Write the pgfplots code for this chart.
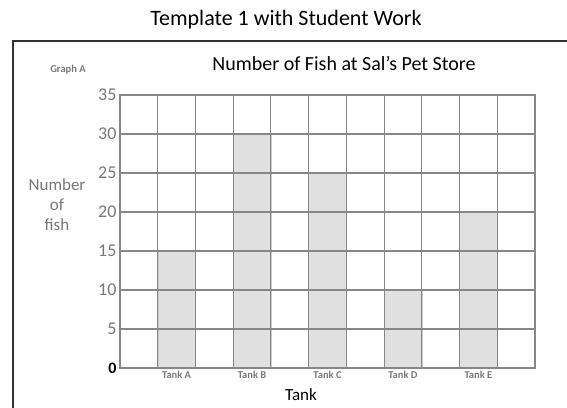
\documentclass[border=0pt]{standalone}
\usepackage{pgfplots}
\pgfplotsset{compat=1.18}
\usepackage{fontspec}
\setmainfont{Carlito}
\definecolor{gridgray}{RGB}{135,135,135}
\definecolor{bargray}{RGB}{224,224,224}
\definecolor{labgray}{RGB}{120,120,120}
\begin{document}
\begin{tikzpicture}
\useasboundingbox (0pt,0pt) rectangle (567pt,407pt);
\draw[line width=1.4pt, black!80] (13pt,-20pt) -- (13pt,366pt) -- (580pt,366pt);
\node[font=\fontsize{22}{24}\selectfont] at (286pt,387pt) {Template 1 with Student Work};
\node[font=\fontsize{10.5}{12}\selectfont\bfseries, text=labgray] at (68pt,337pt) {Graph A};
\node[font=\fontsize{20}{22}\selectfont] at (344pt,343pt) {Number of Fish at Sal's Pet Store};
\node[font=\fontsize{17}{20}\selectfont, text=labgray, align=center] at (57pt,202pt) {Number\\of\\fish};
\begin{axis}[
  at={(120pt,39pt)}, anchor=south west,
  scale only axis, width=415pt, height=273pt,
  xmin=0, xmax=11, ymin=0, ymax=35,
  xtick={1.5,3.5,5.5,7.5,9.5},
  xticklabels={Tank A,Tank B,Tank C,Tank D,Tank E},
  minor xtick={0,1,...,11},
  ytick={0,5,...,35},
  yticklabels={{\color{black}\bfseries\fontsize{16}{16}\selectfont 0},5,10,15,20,25,30,35},
  xticklabel style={font=\fontsize{10.5}{11}\selectfont\bfseries, text=labgray},
  yticklabel style={font=\fontsize{18}{18}\selectfont, text=labgray},
  major tick length=0pt, minor tick length=0pt,
  xmajorgrids=false, xminorgrids=true, ymajorgrids=true,
  grid style={gridgray, line width=1.1pt},
  minor grid style={gridgray, line width=1.1pt},
  axis line style={gridgray, line width=1.1pt},
  axis on top,
  ybar, bar width=1, bar shift=0pt,
]
\addplot[fill=bargray, draw=bargray!90!black] coordinates {(1.5,15) (3.5,30) (5.5,25) (7.5,10) (9.5,20)};
\end{axis}
\node[font=\fontsize{17}{18}\selectfont] at (301pt,12pt) {Tank};
\end{tikzpicture}
\end{document}
